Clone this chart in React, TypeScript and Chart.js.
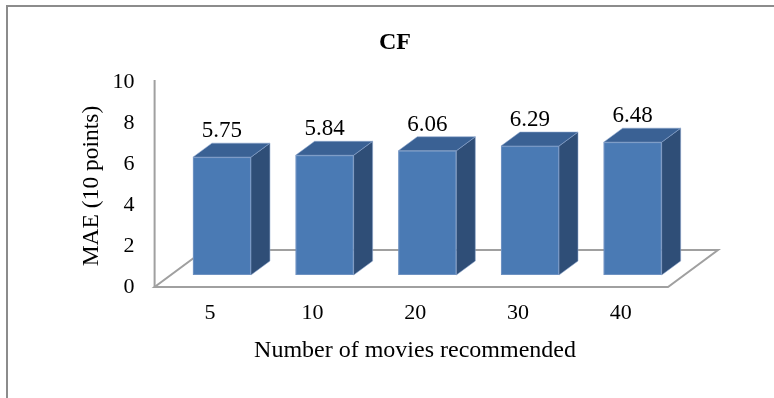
import React, { useEffect, useRef } from "react";
import { Chart, registerables } from "chart.js";

Chart.register(...registerables);

// ---- data ----
const categories = ["5", "10", "20", "30", "40"];
const maeValues = [5.75, 5.84, 6.06, 6.29, 6.48];
const yTickValues = [0, 2, 4, 6, 8, 10];
const chartTitle = "CF";
const yAxisTitle = "MAE (10 points)";
const xAxisTitle = "Number of movies recommended";

// ---- style ----
const SERIF = '"Liberation Serif", "Times New Roman", Times, serif';
const W = 774;
const H = 398;
const BAR_DX = 19;
const BAR_DY = -14;
const FLOOR_FRONT = { dx: -16, dy: 12 };
const FLOOR_BACK = { dx: 34, dy: -25 };
const FRONT_COLOR = "#4a7ab4";
const TOP_COLOR = "#3a6194";
const SIDE_COLOR = "#2f4e77";
const EDGE_COLOR = "rgba(140,165,205,0.55)";
const AXIS_GRAY = "#a0a0a0";

const threeDPlugin = {
  id: "threeD",
  beforeDraw(chart: any) {
    const { ctx } = chart;
    ctx.save();
    ctx.fillStyle = "#ffffff";
    ctx.fillRect(0, 0, chart.width, chart.height);
    ctx.strokeStyle = "#8c8c8c";
    ctx.lineWidth = 2;
    ctx.beginPath();
    ctx.moveTo(7, chart.height + 2);
    ctx.lineTo(7, 6);
    ctx.lineTo(chart.width + 2, 6);
    ctx.stroke();
    ctx.restore();
  },
  beforeDatasetsDraw(chart: any) {
    const { ctx, chartArea, scales } = chart;
    const y0 = scales.y.getPixelForValue(0);
    const yMax = scales.y.getPixelForValue(yTickValues[yTickValues.length - 1]);
    const L = chartArea.left;
    const R = chartArea.right;
    ctx.save();
    ctx.strokeStyle = AXIS_GRAY;
    ctx.lineWidth = 2;
    ctx.lineJoin = "miter";
    ctx.beginPath();
    ctx.moveTo(L + FLOOR_FRONT.dx, y0 + FLOOR_FRONT.dy);
    ctx.lineTo(R + FLOOR_FRONT.dx, y0 + FLOOR_FRONT.dy);
    ctx.lineTo(R + FLOOR_BACK.dx, y0 + FLOOR_BACK.dy);
    ctx.lineTo(L + FLOOR_BACK.dx, y0 + FLOOR_BACK.dy);
    ctx.closePath();
    ctx.stroke();
    ctx.beginPath();
    ctx.moveTo(L + FLOOR_FRONT.dx, yMax + 10);
    ctx.lineTo(L + FLOOR_FRONT.dx, y0 + FLOOR_FRONT.dy);
    ctx.stroke();
    ctx.restore();
  },
  afterDatasetsDraw(chart: any) {
    const { ctx } = chart;
    const meta = chart.getDatasetMeta(0);
    ctx.save();
    meta.data.forEach((bar: any, i: number) => {
      const w = bar.width;
      const left = bar.x - w / 2;
      const right = bar.x + w / 2;
      const top = bar.y;
      const bottom = bar.base;
      // side face
      ctx.fillStyle = SIDE_COLOR;
      ctx.beginPath();
      ctx.moveTo(right, top);
      ctx.lineTo(right + BAR_DX, top + BAR_DY);
      ctx.lineTo(right + BAR_DX, bottom + BAR_DY);
      ctx.lineTo(right, bottom);
      ctx.closePath();
      ctx.fill();
      ctx.strokeStyle = EDGE_COLOR;
      ctx.lineWidth = 1;
      ctx.stroke();
      // top face
      ctx.fillStyle = TOP_COLOR;
      ctx.beginPath();
      ctx.moveTo(left, top);
      ctx.lineTo(left + BAR_DX, top + BAR_DY);
      ctx.lineTo(right + BAR_DX, top + BAR_DY);
      ctx.lineTo(right, top);
      ctx.closePath();
      ctx.fill();
      ctx.stroke();
      // front edge
      ctx.strokeRect(left + 0.5, top + 0.5, w - 1, bottom - top - 1);
      // value label
      ctx.fillStyle = "#000000";
      ctx.font = `23px ${SERIF}`;
      ctx.textAlign = "center";
      ctx.textBaseline = "middle";
      ctx.fillText(maeValues[i].toFixed(2), bar.x, top + BAR_DY - 12);
    });
    ctx.restore();
  },
  afterDraw(chart: any) {
    const { ctx } = chart;
    ctx.save();
    ctx.fillStyle = "#000000";
    ctx.textAlign = "center";
    ctx.textBaseline = "middle";
    ctx.font = `bold 24px ${SERIF}`;
    ctx.fillText(chartTitle, 395, 43);
    ctx.font = `24px ${SERIF}`;
    ctx.fillText(xAxisTitle, 415, 351);
    ctx.font = `23.5px ${SERIF}`;
    ctx.translate(92, 186);
    ctx.rotate(-Math.PI / 2);
    ctx.fillText(yAxisTitle, 0, 0);
    ctx.restore();
  },
};

export default function App() {
  const canvasRef = useRef<HTMLCanvasElement | null>(null);

  useEffect(() => {
    const canvas = canvasRef.current;
    if (!canvas) return;
    const chart = new Chart(canvas, {
      type: "bar",
      data: {
        labels: categories,
        datasets: [
          {
            label: "MAE",
            data: maeValues,
            backgroundColor: FRONT_COLOR,
            borderWidth: 0,
            barPercentage: 0.565,
            categoryPercentage: 1,
          },
        ],
      },
      options: {
        responsive: false,
        animation: false,
        events: [],
        layout: { padding: { left: 0, right: 90, top: 70, bottom: 0 } },
        plugins: {
          legend: { display: false },
          tooltip: { enabled: false },
          title: { display: false },
        },
        scales: {
          x: {
            offset: true,
            grid: { display: false, drawTicks: false },
            border: { display: false },
            ticks: {
              color: "#000000",
              font: { family: SERIF, size: 22 },
              padding: 25,
              labelOffset: -12,
              maxRotation: 0,
            },
            afterFit: (s: any) => {
              s.height = 123;
            },
          },
          y: {
            min: 0,
            max: 10,
            grid: { display: false, drawTicks: false },
            border: { display: false },
            ticks: {
              color: "#000000",
              font: { family: SERIF, size: 22 },
              padding: 36,
              labelOffset: 12,
            },
            afterBuildTicks: (s: any) => {
              s.ticks = yTickValues.map((v) => ({ value: v }));
            },
            afterFit: (s: any) => {
              s.width = 170.6;
            },
          },
        },
      },
      plugins: [threeDPlugin],
    });
    return () => chart.destroy();
  }, []);

  return (
    <div style={{ position: "fixed", left: 0, top: 0, width: W, height: H, background: "#fff" }}>
      <canvas ref={canvasRef} width={W} height={H} style={{ display: "block", width: W, height: H }} />
    </div>
  );
}
